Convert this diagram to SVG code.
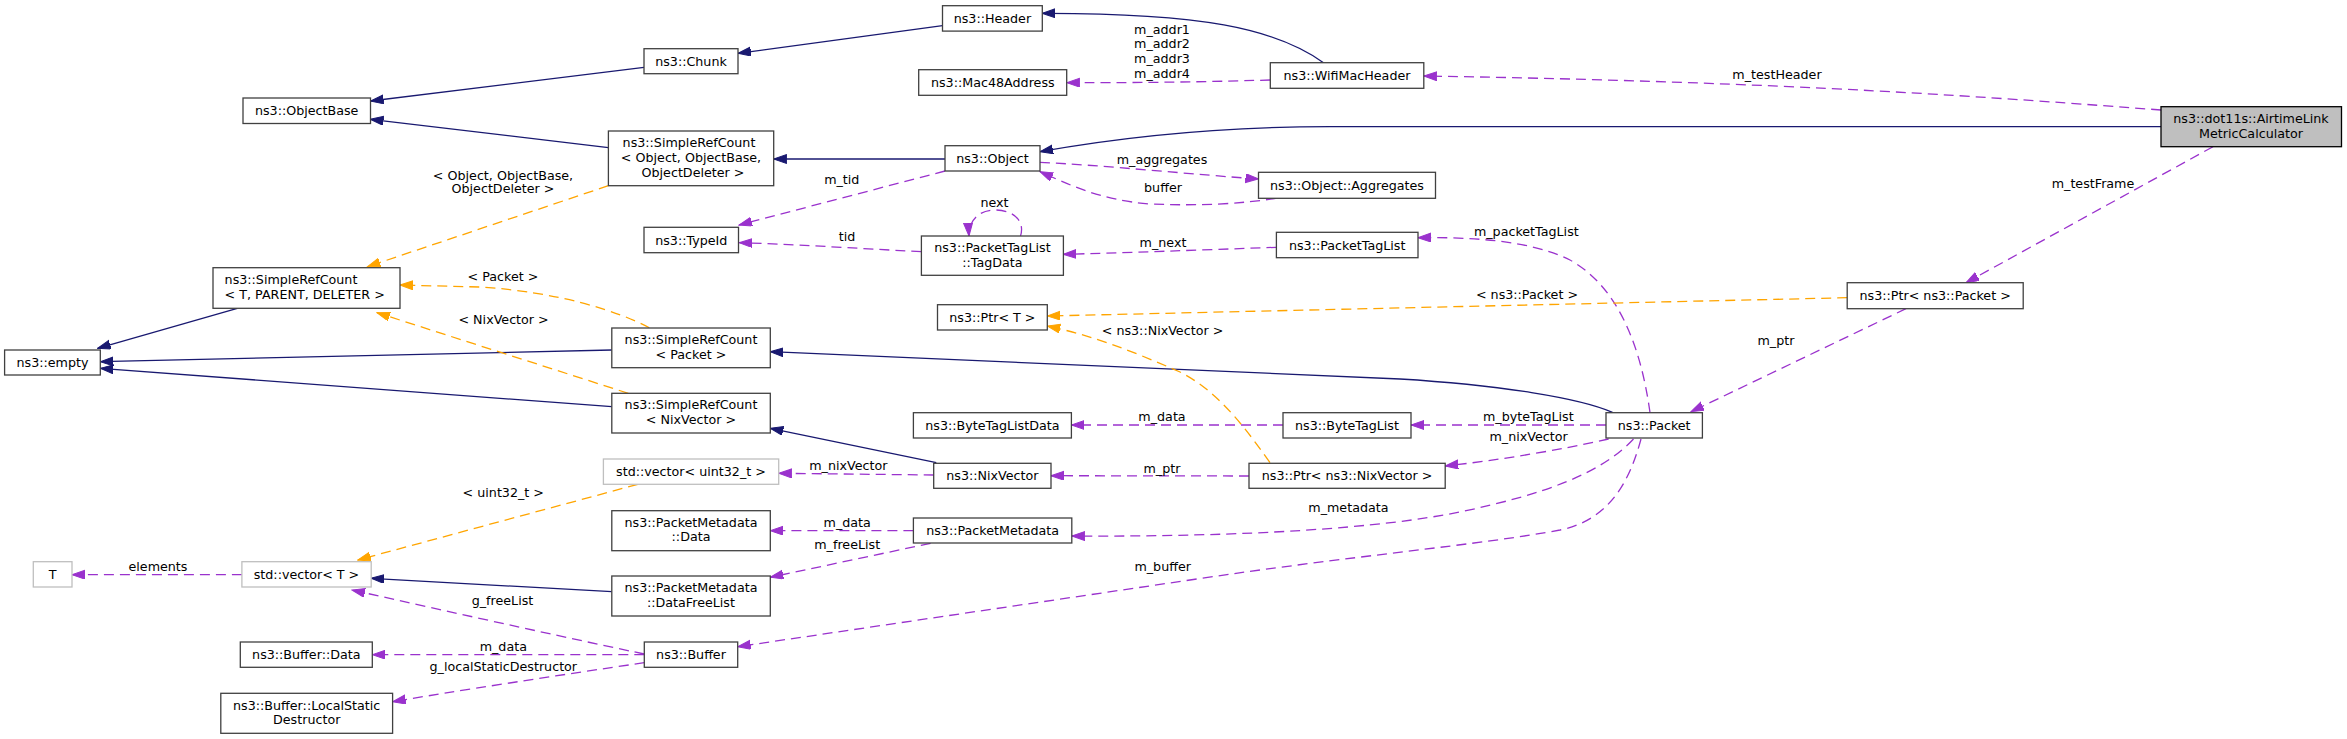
<svg xmlns="http://www.w3.org/2000/svg" width="2347" height="739" viewBox="0 0 2347 739">
<style>
  .n rect { fill: #ffffff; stroke: #404040; stroke-width: 1.3; }
  .n.u rect { stroke: #bfbfbf; }
  .n.root rect { fill: #bfbfbf; stroke: #000000; }
  text { font-family: "DejaVu Sans", "Liberation Sans", sans-serif; font-size: 12.7px; fill: #000000; }
  .n text { text-anchor: middle; }
  .lbl { text-anchor: middle; }
  .e { fill: none; stroke-width: 1.3; }
  .inh { stroke: #191970; marker-end: url(#aB); }
  .use { stroke: #9a32cd; stroke-dasharray: 10,6; marker-end: url(#aP); }
  .tpl { stroke: #ffa500; stroke-dasharray: 10,6; marker-end: url(#aO); }
</style>
<defs>
  <marker id="aB" markerUnits="userSpaceOnUse" markerWidth="14" markerHeight="10" refX="13" refY="4.5" orient="auto"><path d="M0,0 L13,4.5 L0,9 z" fill="#191970" stroke="#191970"/></marker>
  <marker id="aP" markerUnits="userSpaceOnUse" markerWidth="14" markerHeight="10" refX="13" refY="4.5" orient="auto"><path d="M0,0 L13,4.5 L0,9 z" fill="#9a32cd" stroke="#9a32cd"/></marker>
  <marker id="aO" markerUnits="userSpaceOnUse" markerWidth="14" markerHeight="10" refX="13" refY="4.5" orient="auto"><path d="M0,0 L13,4.5 L0,9 z" fill="#ffa500" stroke="#ffa500"/></marker>
</defs>
<rect x="0" y="0" width="2347" height="739" fill="#ffffff"/>

<g id="edges">
  <!-- inheritance -->
  <path class="e inh" d="M942.5,25.7 L738,53.3"/>
  <path class="e inh" d="M644,67.3 L370.5,101"/>
  <path class="e inh" d="M608.4,147.7 L370.5,119.3"/>
  <path class="e inh" d="M1323.5,62.7 C1275,28 1200,13 1042.3,13.3"/>
  <path class="e inh" d="M945,159 L773.7,159"/>
  <path class="e inh" d="M2161,126.7 L1330,126.7 C1200,126.7 1100,141 1040,151.7"/>
  <path class="e inh" d="M237.3,308.3 L97.6,348.3"/>
  <path class="e inh" d="M611.8,350 L100.3,361.7"/>
  <path class="e inh" d="M611.8,406.7 L100.3,368.3"/>
  <path class="e inh" d="M1612.5,412.3 C1580,398 1500,385 1400,379 L770.3,351.7"/>
  <path class="e inh" d="M936.3,462.7 L770.3,428.3"/>
  <path class="e inh" d="M611.8,591.7 L371.2,578.3"/>

  <!-- usage -->
  <path class="e use" d="M2161,110 C2000,98 1800,82 1423.8,76"/>
  <path class="e use" d="M1270.3,80 C1200,82 1150,82.7 1066.8,82.7"/>
  <path class="e use" d="M1040,162.3 C1100,165 1200,175 1258.5,179"/>
  <path class="e use" d="M1275.7,198.3 C1240,204 1200,206 1150,204 C1100,200 1070,185 1040,171.7"/>
  <path class="e use" d="M945,171 L739,225"/>
  <path class="e use" d="M921.4,251.7 C850,248 790,244 739.3,242.7"/>
  <path class="e use" d="M1020.5,236 C1025,222 1015,210 995,210 C978,210 968,222 969,236"/>
  <path class="e use" d="M1276.4,247.3 C1200,250 1120,253 1063.4,254.3"/>
  <path class="e use" d="M1650,412.7 C1640,340 1615,285 1570,260 C1530,240 1470,237 1418,237.7"/>
  <path class="e use" d="M2213,146.7 L1966,282.7"/>
  <path class="e use" d="M1906,308.7 L1691,411.7"/>
  <path class="e use" d="M1606,425 L1411,425"/>
  <path class="e use" d="M1283,425 L1071.4,425"/>
  <path class="e use" d="M1608.6,439 C1560,450 1500,460 1445.2,466"/>
  <path class="e use" d="M1249,476 L1051,475.7"/>
  <path class="e use" d="M933.7,475 L778.7,473.3"/>
  <path class="e use" d="M1633.5,439 C1600,475 1540,495 1460,512 C1380,528 1250,537 1071.8,536"/>
  <path class="e use" d="M913.4,530.7 L770.3,530.7"/>
  <path class="e use" d="M930.6,543.3 L770.3,577.3"/>
  <path class="e use" d="M1641,439 C1630,480 1610,520 1560,530 C1480,545 1350,556 1190,580 L737.7,646.7"/>
  <path class="e use" d="M644.3,654 C600,645 450,612 352,590"/>
  <path class="e use" d="M644.3,654.7 L372.4,654.7"/>
  <path class="e use" d="M644.3,662.7 C560,675 450,692 392.6,701.7"/>
  <path class="e use" d="M241.9,574.7 L72,574.7"/>

  <!-- template instances -->
  <path class="e tpl" d="M608.4,185.7 L367.4,266.7"/>
  <path class="e tpl" d="M649.3,327.7 C620,312 560,292 480,287 L400,285"/>
  <path class="e tpl" d="M628.3,393.3 L377,312.7"/>
  <path class="e tpl" d="M1847.2,297.7 L1047.3,316"/>
  <path class="e tpl" d="M1270,462.7 C1240,420 1215,390 1180,372 C1130,350 1090,335 1047.3,326"/>
  <path class="e tpl" d="M637.8,484.3 L357.8,560"/>

  <!-- labels -->
  <text class="lbl" x="1777" y="78.8">m_testHeader</text>
  <text class="lbl" x="1162" y="33.5">m_addr1</text>
  <text class="lbl" x="1162" y="48.2">m_addr2</text>
  <text class="lbl" x="1162" y="63.2">m_addr3</text>
  <text class="lbl" x="1162" y="77.5">m_addr4</text>
  <text class="lbl" x="1162" y="163.5">m_aggregates</text>
  <text class="lbl" x="1163" y="192.2">buffer</text>
  <text class="lbl" x="841.8" y="183.8">m_tid</text>
  <text class="lbl" x="847" y="241.2">tid</text>
  <text class="lbl" x="994.5" y="206.8">next</text>
  <text class="lbl" x="1163" y="247.2">m_next</text>
  <text class="lbl" x="1526.3" y="236.2">m_packetTagList</text>
  <text class="lbl" x="2093" y="187.8">m_testFrame</text>
  <text class="lbl" x="1776" y="344.5">m_ptr</text>
  <text class="lbl" x="1528.3" y="421.2">m_byteTagList</text>
  <text class="lbl" x="1162" y="421.2">m_data</text>
  <text class="lbl" x="1528.6" y="441.2">m_nixVector</text>
  <text class="lbl" x="1162" y="472.8">m_ptr</text>
  <text class="lbl" x="848.3" y="469.5">m_nixVector</text>
  <text class="lbl" x="1348.4" y="511.8">m_metadata</text>
  <text class="lbl" x="847.2" y="527.2">m_data</text>
  <text class="lbl" x="847.2" y="548.8">m_freeList</text>
  <text class="lbl" x="1162.7" y="571.2">m_buffer</text>
  <text class="lbl" x="502.5" y="605.2">g_freeList</text>
  <text class="lbl" x="503.3" y="651.2">m_data</text>
  <text class="lbl" x="503.3" y="671.2">g_localStaticDestructor</text>
  <text class="lbl" x="158" y="571.2">elements</text>
  <text class="lbl" x="503" y="179.5">&lt; Object, ObjectBase,</text>
  <text class="lbl" x="503" y="192.8">ObjectDeleter &gt;</text>
  <text class="lbl" x="503" y="280.5">&lt; Packet &gt;</text>
  <text class="lbl" x="503.6" y="323.8">&lt; NixVector &gt;</text>
  <text class="lbl" x="1527" y="298.8">&lt; ns3::Packet &gt;</text>
  <text class="lbl" x="1162.5" y="334.5">&lt; ns3::NixVector &gt;</text>
  <text class="lbl" x="503.3" y="496.8">&lt; uint32_t &gt;</text>
</g>

<g id="n_airtime" class="n root"><rect x="2161" y="106.7" width="180.5" height="40"/><text x="2251" y="123.3">ns3::dot11s::AirtimeLink</text><text x="2251" y="137.7">MetricCalculator</text></g>
<g id="n_wifimacheader" class="n"><rect x="1270.3" y="62.7" width="153.5" height="25.6"/><text x="1347" y="80">ns3::WifiMacHeader</text></g>
<g id="n_header" class="n"><rect x="942.5" y="5.7" width="99.8" height="25.4"/><text x="992.4" y="22.9">ns3::Header</text></g>
<g id="n_chunk" class="n"><rect x="644" y="48.7" width="94" height="25"/><text x="691" y="65.7">ns3::Chunk</text></g>
<g id="n_objectbase" class="n"><rect x="243" y="98" width="127.5" height="25.5"/><text x="306.7" y="115.2">ns3::ObjectBase</text></g>
<g id="n_mac48" class="n"><rect x="918.7" y="69.7" width="148" height="25.6"/><text x="992.8" y="87">ns3::Mac48Address</text></g>
<g id="n_object" class="n"><rect x="945" y="145.7" width="95" height="25.3"/><text x="992.5" y="162.8">ns3::Object</text></g>
<g id="n_src_object" class="n"><rect x="608.4" y="131" width="165.3" height="54.7"/><text x="689" y="147.2">ns3::SimpleRefCount</text><text x="691" y="162.2">&lt; Object, ObjectBase,</text><text x="693" y="177.2">ObjectDeleter &gt;</text></g>
<g id="n_aggregates" class="n"><rect x="1258.5" y="172.3" width="177" height="26"/><text x="1347" y="189.8">ns3::Object::Aggregates</text></g>
<g id="n_typeid" class="n"><rect x="644" y="227.3" width="94.5" height="25.4"/><text x="691.3" y="244.5">ns3::TypeId</text></g>
<g id="n_tagdata" class="n"><rect x="921.4" y="236" width="142" height="39.3"/><text x="992.4" y="251.8">ns3::PacketTagList</text><text x="992.4" y="267.2">::TagData</text></g>
<g id="n_packettaglist" class="n"><rect x="1276.4" y="232.3" width="141.6" height="25.4"/><text x="1347.2" y="249.5">ns3::PacketTagList</text></g>
<g id="n_src_tpd" class="n"><rect x="213" y="267.7" width="187" height="40.6"/><text x="224.6" y="283.8" style="text-anchor:start">ns3::SimpleRefCount</text><text x="224.6" y="298.5" style="text-anchor:start">&lt; T, PARENT, DELETER &gt;</text></g>
<g id="n_empty" class="n"><rect x="4.6" y="350" width="95.7" height="25"/><text x="52.5" y="367">ns3::empty</text></g>
<g id="n_ptr_t" class="n"><rect x="937.5" y="304.7" width="109.8" height="25.3"/><text x="992.4" y="321.8">ns3::Ptr&lt; T &gt;</text></g>
<g id="n_src_packet" class="n"><rect x="611.8" y="328" width="158.5" height="39.7"/><text x="691" y="343.8">ns3::SimpleRefCount</text><text x="691" y="358.5">&lt; Packet &gt;</text></g>
<g id="n_src_nix" class="n"><rect x="611.8" y="393.3" width="158.5" height="39.7"/><text x="691" y="408.8">ns3::SimpleRefCount</text><text x="691" y="423.8">&lt; NixVector &gt;</text></g>
<g id="n_ptr_packet" class="n"><rect x="1847.2" y="282.7" width="176" height="26"/><text x="1935.2" y="300.2">ns3::Ptr&lt; ns3::Packet &gt;</text></g>
<g id="n_bytetaglistdata" class="n"><rect x="913.4" y="412.7" width="158" height="25.3"/><text x="992.4" y="429.8">ns3::ByteTagListData</text></g>
<g id="n_bytetaglist" class="n"><rect x="1283" y="412.7" width="128" height="25.3"/><text x="1347" y="429.8">ns3::ByteTagList</text></g>
<g id="n_packet" class="n"><rect x="1606" y="412.7" width="96.4" height="25.3"/><text x="1654.2" y="429.8">ns3::Packet</text></g>
<g id="n_vec_u32" class="n u"><rect x="603.4" y="459" width="175.3" height="25.3"/><text x="691" y="476.2">std::vector&lt; uint32_t &gt;</text></g>
<g id="n_nixvector" class="n"><rect x="933.7" y="463.3" width="117.3" height="25"/><text x="992.4" y="480.3">ns3::NixVector</text></g>
<g id="n_ptr_nix" class="n"><rect x="1249" y="463.3" width="196.2" height="25"/><text x="1347.1" y="480.3">ns3::Ptr&lt; ns3::NixVector &gt;</text></g>
<g id="n_pm_data" class="n"><rect x="611.8" y="510.7" width="158.5" height="40"/><text x="691" y="527.2">ns3::PacketMetadata</text><text x="691" y="541.2">::Data</text></g>
<g id="n_packetmetadata" class="n"><rect x="913.4" y="518" width="158.4" height="25"/><text x="992.6" y="535">ns3::PacketMetadata</text></g>
<g id="n_pm_freelist" class="n"><rect x="611.8" y="576" width="158.5" height="40"/><text x="691" y="592.2">ns3::PacketMetadata</text><text x="691" y="606.8">::DataFreeList</text></g>
<g id="n_t" class="n u"><rect x="33.3" y="561.7" width="38.7" height="25.3"/><text x="52.7" y="578.8">T</text></g>
<g id="n_vec_t" class="n u"><rect x="241.9" y="561.7" width="129.3" height="25.3"/><text x="306.5" y="578.8">std::vector&lt; T &gt;</text></g>
<g id="n_buffer_data" class="n"><rect x="240.3" y="642" width="132" height="25.3"/><text x="306.3" y="659.2">ns3::Buffer::Data</text></g>
<g id="n_buffer" class="n"><rect x="644.3" y="642" width="93.4" height="25.3"/><text x="691" y="659.2">ns3::Buffer</text></g>
<g id="n_localstatic" class="n"><rect x="220.8" y="693.3" width="171.8" height="40"/><text x="306.7" y="709.5">ns3::Buffer::LocalStatic</text><text x="306.7" y="723.8">Destructor</text></g>
</svg>
